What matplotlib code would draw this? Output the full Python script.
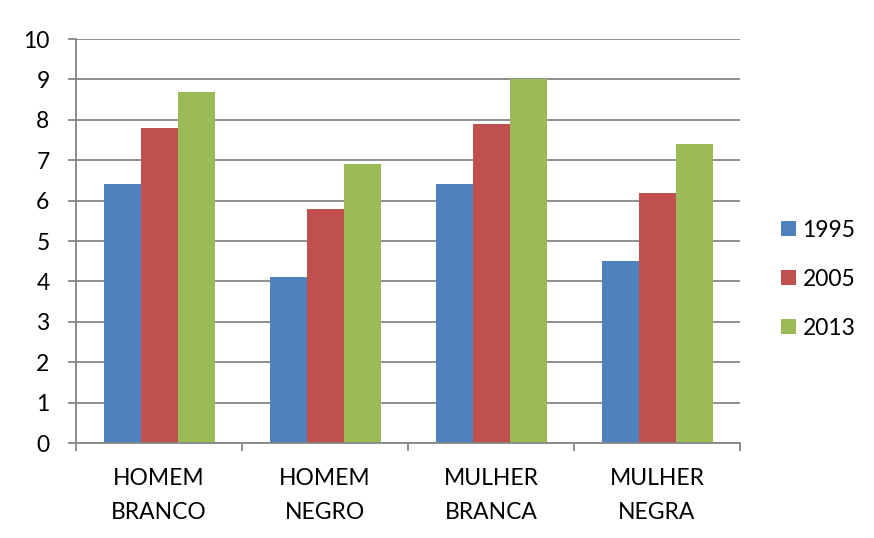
import matplotlib
matplotlib.use("Agg")
import matplotlib.pyplot as plt
import numpy as np

categories = ["HOMEM\nBRANCO", "HOMEM\nNEGRO", "MULHER\nBRANCA", "MULHER\nNEGRA"]
series_names = ["1995", "2005", "2013"]
v1995 = [6.4, 4.1, 6.4, 4.5]
v2005 = [7.8, 5.8, 7.9, 6.2]
v2013 = [8.7, 6.9, 9.0, 7.4]
colors = ["#4F81BD", "#C0504D", "#9BBB59"]
yticks = list(range(0, 11))

plt.rcParams['font.family'] = ['Lato', 'DejaVu Sans']
FS = 16.5

fig = plt.figure(figsize=(8.74, 5.38), dpi=100)
ax = fig.add_axes([76/874, 1-443/538, (740-76)/874, (443-39)/538])

x = np.arange(len(categories))
w = 37/166
for i, (vals, name) in enumerate(zip([v1995, v2005, v2013], series_names)):
    ax.bar(x + (i-1)*w, vals, width=w, color=colors[i], label=name, zorder=3)

grid_c = "#868686"
ax.set_xlim(-0.5, len(categories)-0.5)
ax.set_ylim(0, 10)
ax.set_yticks(yticks)
ax.set_yticklabels([str(t) for t in yticks], fontsize=FS)
ax.yaxis.grid(True, color=grid_c, linewidth=1.3, zorder=0)
ax.tick_params(axis='y', length=6, width=1.3, color=grid_c, pad=13)

ax.set_xticks(x)
ax.set_xticklabels(categories, fontsize=FS, linespacing=1.75)
ax.set_xticks(np.arange(-0.5, len(categories), 1), minor=True)
ax.tick_params(axis='x', which='major', length=0, pad=18)
ax.tick_params(axis='x', which='minor', length=6, width=1.3, color=grid_c)

for s in ['top', 'right']:
    ax.spines[s].set_visible(False)
for s in ['left', 'bottom']:
    ax.spines[s].set_color(grid_c)
    ax.spines[s].set_linewidth(1.3)
    ax.spines[s].set_zorder(4)

leg = fig.legend(loc='upper left', bbox_to_anchor=(760/874, 1-199/538), frameon=False,
                 fontsize=FS, handlelength=0.65, handleheight=0.65,
                 labelspacing=1.22, handletextpad=0.3)

fig.savefig("out.png", dpi=100, facecolor="white")
